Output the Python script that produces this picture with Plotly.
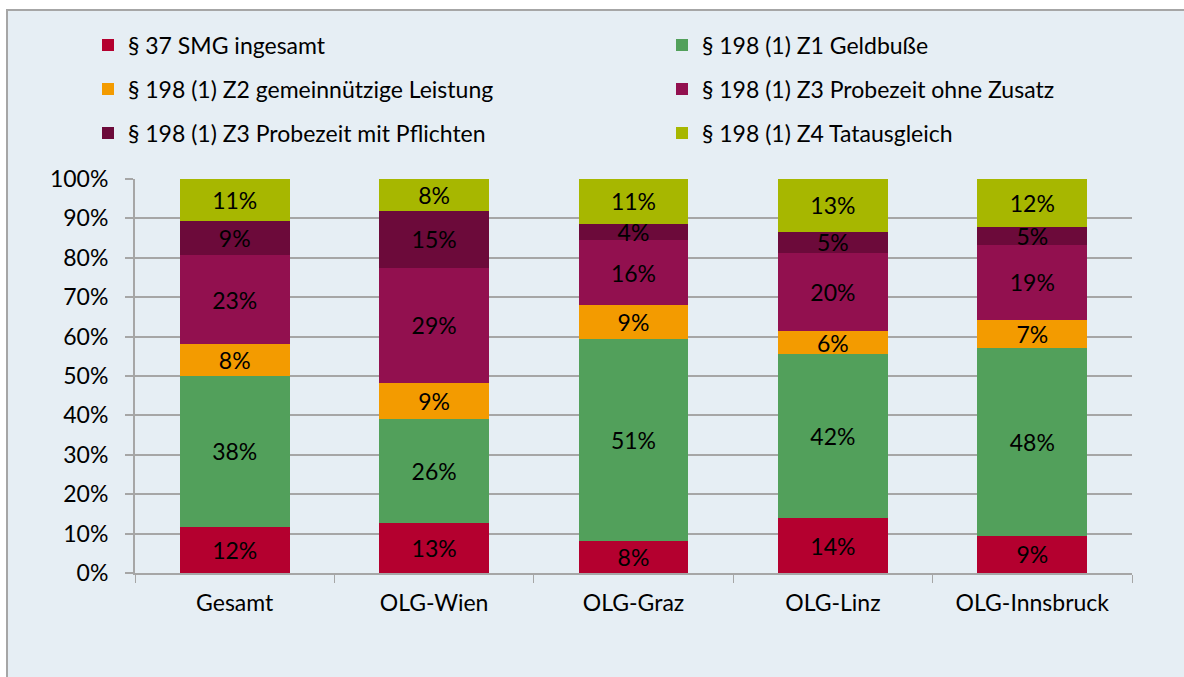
import plotly.graph_objects as go

categories = ["Gesamt", "OLG-Wien", "OLG-Graz", "OLG-Linz", "OLG-Innsbruck"]
series_names = [
    "§ 37 SMG ingesamt",
    "§ 198 (1) Z1 Geldbuße",
    "§ 198 (1) Z2 gemeinnützige Leistung",
    "§ 198 (1) Z3 Probezeit ohne Zusatz",
    "§ 198 (1) Z3 Probezeit mit Pflichten",
    "§ 198 (1) Z4 Tatausgleich",
]
smg37 = [11.8, 12.7, 8.1, 13.9, 9.4]
z1_geldbusse = [38.3, 26.4, 51.2, 41.6, 47.8]
z2_gemeinnuetzig = [7.9, 9.2, 8.8, 6.0, 7.1]
z3_ohne_zusatz = [22.6, 29.2, 16.3, 19.7, 19.0]
z3_mit_pflichten = [8.7, 14.5, 4.2, 5.4, 4.6]
z4_tatausgleich = [10.7, 8.0, 11.4, 13.4, 12.1]
series_values = [smg37, z1_geldbusse, z2_gemeinnuetzig, z3_ohne_zusatz, z3_mit_pflichten, z4_tatausgleich]
colors = ["#B4002F", "#52A05B", "#F39B00", "#92104F", "#6C0A3A", "#A7B700"]

FONT = "Lato"
FS = 23
W, H = 1184, 677
L, R, T, B = 135, 52, 179, 104
pw, ph = W - L - R, H - T - B

def px_x(p):
    return (p - L) / pw

def px_y(p):
    return (H - B - p) / ph

# legend slots (pixel positions of legend anchor: left x, middle y)
legend_slots = [(88, 45), (662, 45), (88, 89), (662, 89), (88, 133), (662, 133)]

fig = go.Figure()
legends = {}
for i, (name, vals, col) in enumerate(zip(series_names, series_values, colors)):
    lid = "legend" if i == 0 else f"legend{i + 1}"
    fig.add_trace(go.Bar(
        x=categories, y=vals, name=name, marker=dict(color=col, line=dict(width=0)),
        texttemplate="%{y:.0f}%", textposition="inside", insidetextanchor="middle",
        textangle=0, textfont=dict(family=FONT, size=FS, color="black"),
        hoverinfo="skip", legend=lid, showlegend=True,
    ))
    lx, ly = legend_slots[i]
    legends[lid] = dict(
        x=px_x(lx), y=px_y(ly), xanchor="left", yanchor="middle",
        orientation="v", font=dict(family=FONT, size=FS, color="black"),
        bgcolor="rgba(0,0,0,0)", borderwidth=0,
    )

fig.update_layout(
    width=W, height=H,
    showlegend=True,
    margin=dict(l=L, r=R, t=T, b=B, pad=0),
    barmode="stack", bargap=0.45,
    paper_bgcolor="white", plot_bgcolor="rgba(0,0,0,0)",
    uniformtext=dict(minsize=FS, mode="show"),
    xaxis=dict(
        tickfont=dict(family=FONT, size=FS, color="black"),
        showline=True, linecolor="#A6A6A6", linewidth=2,
        ticks="outside", tickson="boundaries", ticklen=8, tickcolor="#A6A6A6", tickwidth=1,
        ticklabelstandoff=8,
        showgrid=False, fixedrange=True,
    ),
    yaxis=dict(
        range=[0, 100], dtick=10, ticksuffix="%",
        tickfont=dict(family=FONT, size=FS, color="black"),
        showline=True, linecolor="#A6A6A6", linewidth=2,
        ticks="outside", ticklen=8, tickcolor="#A6A6A6", tickwidth=2,
        ticklabelstandoff=12,
        showgrid=True, gridcolor="#A6A6A6", gridwidth=2, zeroline=False,
        fixedrange=True,
    ),
    shapes=[dict(
        type="rect", xref="paper", yref="paper", layer="below",
        x0=px_x(7), x1=px_x(W + 10), y0=px_y(H + 10), y1=px_y(10),
        fillcolor="#E6EEF4", line=dict(color="#A6A6A6", width=2),
    )],
    **legends,
)

fig.write_html(
    "out.html",
    config={"displayModeBar": False},
    post_script="document.body.style.margin='0';",
)
